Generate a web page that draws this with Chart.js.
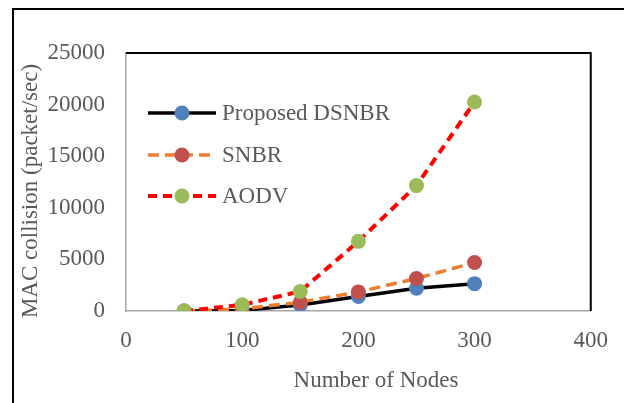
<!DOCTYPE html>
<html>
<head>
<meta charset="utf-8">
<script src="https://cdn.jsdelivr.net/npm/chart.js@4"></script>
<style>
    html, body { margin: 0; padding: 0; background: #fff; overflow: hidden; }
    #wrap { position: relative; width: 624px; height: 403px; }
    #frame {
        position: absolute; left: 12px; top: 8px; width: 700px; height: 500px;
        border-top: 2px solid #000; border-left: 2px solid #000;
    }
    #box { position: absolute; left: 0; top: 0; width: 624px; height: 403px; }
</style>
</head>
<body>
<div id="wrap">
    <div id="frame"></div>
    <div id="box"><canvas id="myChart"></canvas></div>
</div>
<script>
// 横軸（ノード数）
const nodes = [50, 100, 150, 200, 250, 300];
// 各方式の MAC 衝突数
const dsnbrValues = [0, 60, 580, 1400, 2200, 2650];
const snbrValues = [0, 200, 850, 1850, 3150, 4700];
const aodvValues = [0, 600, 1900, 6750, 12150, 20250];
// 目盛り
const xTicks = [0, 100, 200, 300, 400];
const yTicks = [0, 5000, 10000, 15000, 20000, 25000];
// 軸タイトル
const xTitle = "Number of Nodes";
const yTitle = "MAC collision (packet/sec)";

const font = "'Liberation Serif', 'Times New Roman', serif";
const textColor = "#595959";
const fontSize = 23;

function toPoints(values) {
    return nodes.map((n, i) => ({ x: n, y: values[i] }));
}

// 上と右の枠線を描く
const plotBorder = {
    id: "plotBorder",
    afterDraw(chart) {
        const { ctx, chartArea: a } = chart;
        ctx.save();
        ctx.strokeStyle = "#000";
        ctx.lineWidth = 2;
        ctx.beginPath();
        ctx.moveTo(a.left, a.top);
        ctx.lineTo(a.right, a.top);
        ctx.lineTo(a.right, a.bottom);
        ctx.stroke();
        ctx.restore();
    },
};

// 軸タイトル（Excel風の位置に置く）
const axisTitles = {
    id: "axisTitles",
    afterDraw(chart) {
        const { ctx } = chart;
        ctx.save();
        ctx.fillStyle = textColor;
        ctx.font = fontSize + "px " + font;
        ctx.textAlign = "center";
        ctx.textBaseline = "middle";
        ctx.fillText(xTitle, 376, 381);
        ctx.translate(31, 191);
        ctx.rotate(-Math.PI / 2);
        ctx.fillText(yTitle, 0, 0);
        ctx.restore();
    },
};

// 線とマーカー付きの凡例
const lineLegend = {
    id: "lineLegend",
    afterDraw(chart) {
        const { ctx } = chart;
        const x0 = 148, x1 = 216, rowY = [113, 155, 196];
        ctx.save();
        chart.data.datasets.forEach((ds, i) => {
            const y = rowY[i];
            ctx.strokeStyle = ds.borderColor;
            ctx.lineWidth = ds.borderWidth;
            ctx.setLineDash(ds.borderDash || []);
            ctx.beginPath();
            ctx.moveTo(x0, y);
            ctx.lineTo(x1, y);
            ctx.stroke();
            ctx.setLineDash([]);
            ctx.fillStyle = ds.pointBackgroundColor;
            ctx.beginPath();
            ctx.arc((x0 + x1) / 2, y, ds.pointRadius, 0, Math.PI * 2);
            ctx.fill();
            ctx.fillStyle = textColor;
            ctx.font = fontSize + "px " + font;
            ctx.textBaseline = "middle";
            ctx.fillText(ds.label, 222, y + 1);
        });
        ctx.restore();
    },
};

const data = {
    datasets: [
        {
            label: "Proposed DSNBR",
            data: toPoints(dsnbrValues),
            borderColor: "#000000",
            borderWidth: 3.5,
            pointBackgroundColor: "#4f81bd",
            pointBorderWidth: 0,
            pointRadius: 7.5,
            order: 3,
        },
        {
            label: "SNBR",
            data: toPoints(snbrValues),
            borderColor: "#ed7d31",
            borderWidth: 3.5,
            borderDash: [11, 6],
            pointBackgroundColor: "#c0504d",
            pointBorderWidth: 0,
            pointRadius: 7.5,
            order: 2,
        },
        {
            label: "AODV",
            data: toPoints(aodvValues),
            borderColor: "#ff0000",
            borderWidth: 4,
            borderDash: [9, 6],
            pointBackgroundColor: "#9bbb59",
            pointBorderWidth: 0,
            pointRadius: 7.5,
            order: 1,
        },
    ],
};

const ctx = document.getElementById("myChart");
const myChart = new Chart(ctx, {
    type: "line",
    data,
    options: {
        responsive: true,
        maintainAspectRatio: false,
        animation: false,
        devicePixelRatio: 1,
        layout: { padding: { left: 18, top: 53, right: 32, bottom: 10 } },
        plugins: { legend: { display: false }, tooltip: { enabled: false } },
        scales: {
            x: {
                type: "linear",
                min: 0,
                max: 400,
                afterBuildTicks: (s) => { s.ticks = xTicks.map((v) => ({ value: v })); },
                afterFit: (s) => { s.height = 82; },
                grid: { display: false, drawTicks: false },
                border: { color: "#a6a6a6", width: 1.5 },
                ticks: { color: textColor, font: { family: font, size: fontSize }, padding: 16, maxRotation: 0 },
            },
            y: {
                min: 0,
                max: 25000,
                afterBuildTicks: (s) => { s.ticks = yTicks.map((v) => ({ value: v })); },
                afterFit: (s) => { s.width = 108; },
                grid: { display: false, drawTicks: false },
                border: { color: "#a6a6a6", width: 1.5 },
                ticks: { color: textColor, font: { family: font, size: fontSize }, padding: 21, callback: (v) => String(v) },
            },
        },
    },
    plugins: [plotBorder, axisTitles, lineLegend],
});
</script>
</body>
</html>
